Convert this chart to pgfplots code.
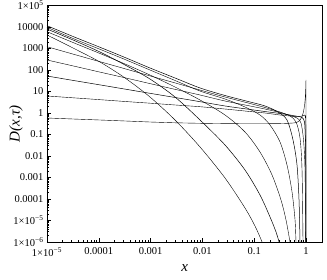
\documentclass[border=0pt]{standalone}
\usepackage{fontspec}
\setmainfont{Liberation Serif}
\usepackage{pgfplots}
\pgfplotsset{compat=1.18}

\begin{document}
\begin{tikzpicture}
\begin{loglogaxis}[
    name=ax,
    scale only axis,
    width=275.5pt, height=236.5pt,
    xmin=1e-5, xmax=2.08,
    ymin=1e-6, ymax=1e5,
    xtick={1e-5,1e-4,1e-3,1e-2,1e-1,1},
    xticklabels={1×10\textsuperscript{−5},0.0001,0.001,0.01,0.1,1},
    ytick={1e-6,1e-5,1e-4,1e-3,1e-2,1e-1,1,10,100,1000,10000,1e5},
    yticklabels={1×10\textsuperscript{−6},1×10\textsuperscript{−5},0.0001,0.001,0.01,0.1,1,10,100,1000,10000,1×10\textsuperscript{5}},
    tick label style={font=\fontsize{10.5}{12}\selectfont},
    xticklabel style={yshift=-2pt},
    tick align=inside,
    xtick pos=left, ytick pos=left,
    major tick length=4pt, minor tick length=2pt,
    every tick/.style={black, line width=0.5pt},
    axis line style={line width=0.9pt},
    xlabel={\textit{x}}, ylabel={\textit{D(x,τ)}},
    label style={font=\fontsize{15}{18}\selectfont},
    xlabel style={at={(axis description cs:0.5,-0.11)}, anchor=center},
    ylabel style={at={(axis description cs:-0.1125,0.5)}, anchor=center},
    cycle list={{black, solid, line width=0.5pt}},
    every axis plot/.append style={no marks},
]
% C1 (smallest tau): flat, spike at x->1
\addplot coordinates {(1e-5,0.585) (3.18e-5,0.526) (1.054e-4,0.472) (3.21e-4,0.425) (9.72e-4,0.381) (2.96e-3,0.350) (9.0e-3,0.332) (0.0273,0.321) (0.083,0.315) (0.2018,0.318) (0.3148,0.322) (0.4498,0.330) (0.5861,0.345) (0.6699,0.37) (0.7656,0.46) (0.8375,0.68) (0.895,1.15) (0.94,2.3) (0.97,5.5) (0.985,12) (0.993,21) (0.998,34.3) (0.9995,1e-7)};
% C2
\addplot+[smooth, tension=0.5] coordinates {(1e-5,6.18) (3.18e-5,5.09) (1.054e-4,4.16) (3.21e-4,3.43) (9.72e-4,2.86) (2.96e-3,2.36) (9.0e-3,1.96) (0.0273,1.53) (0.083,1.17) (0.1614,1.0) (0.3148,0.807) (0.4909,0.725) (0.7015,0.687) (0.8375,0.725) (0.935,0.807) (0.975,0.6) (0.991,0.2) (0.997,1e-6) (0.998,1e-7)};
% C3
\addplot+[smooth, tension=0.5] coordinates {(1e-5,52.6) (3.18e-5,32.8) (1.054e-4,20.3) (3.21e-4,12.9) (9.72e-4,8.24) (2.96e-3,5.26) (9.0e-3,3.36) (0.0273,2.12) (0.083,1.46) (0.1614,1.17) (0.3148,0.948) (0.4909,0.807) (0.7015,0.687) (0.8375,0.618) (0.935,0.381) (0.975,0.05) (0.986,0.019) (0.995,1e-6) (0.997,1e-7)};
% C4
\addplot+[smooth, tension=0.5] coordinates {(1e-5,292) (3.18e-5,155) (1.054e-4,79.8) (3.21e-4,43.4) (9.72e-4,23.3) (2.96e-3,12.6) (9.0e-3,6.87) (0.0273,3.61) (0.083,2.12) (0.1614,1.53) (0.3148,1.05) (0.4909,0.766) (0.6699,0.585) (0.80,0.343) (0.895,0.0555) (0.957,2.23e-3) (0.982,1e-6) (0.99,1e-8)};
% C5
\addplot+[smooth, tension=0.5] coordinates {(1e-5,1210) (3.18e-5,549) (1.054e-4,243) (3.21e-4,114) (9.72e-4,53.2) (2.96e-3,25.1) (9.0e-3,11.7) (0.0273,5.55) (0.083,2.77) (0.1614,1.80) (0.3148,1.11) (0.4909,0.725) (0.6412,0.381) (0.7656,0.0687) (0.8375,2.23e-3) (0.875,1e-6) (0.885,1e-7)};
% T_a
\addplot+[smooth, tension=0.5] coordinates {(1e-5,11480) (3.18e-5,3620) (1.054e-4,1140) (3.21e-4,381) (9.72e-4,124) (2.96e-3,42.5) (9.0e-3,14.6) (0.0273,6.51) (0.083,3.25) (0.1614,2.12) (0.2877,1.11) (0.4295,0.472) (0.561,0.0555) (0.6699,3.81e-3) (0.7328,8.97e-5) (0.7656,1e-6) (0.78,1e-7)};
% T_b
\addplot+[smooth, tension=0.5] coordinates {(1e-5,9680) (3.18e-5,2920) (1.054e-4,918) (3.21e-4,308) (9.72e-4,100) (2.96e-3,32.5) (9.0e-3,10.5) (0.0273,4.48) (0.0664,1.90) (0.1294,0.807) (0.2018,0.277) (0.3148,0.0448) (0.4295,3.81e-3) (0.537,2.12e-4) (0.6138,1.05e-5) (0.6412,1e-6) (0.67,1.8e-7)};
% S3
\addplot+[smooth, tension=0.5] coordinates {(1e-5,6040) (3.18e-5,1900) (1.054e-4,585) (3.21e-4,190) (9.72e-4,58.5) (2.96e-3,16.2) (9.0e-3,4.02) (0.0273,0.807) (0.0664,0.1306) (0.1294,0.0153) (0.2208,1.31e-3) (0.3289,8.97e-5) (0.4111,1.05e-5) (0.4909,1e-6) (0.537,2.5e-7)};
% S2
\addplot+[smooth, tension=0.5] coordinates {(1e-5,8070) (3.18e-5,2490) (1.054e-4,687) (3.21e-4,171) (9.72e-4,38.1) (2.96e-3,5.55) (9.0e-3,0.472) (0.0273,0.0325) (0.0664,2.23e-3) (0.1294,1.53e-4) (0.2018,1.46e-5) (0.2636,2.92e-6) (0.3013,1e-6) (0.3289,3.4e-7)};
% S1 (largest tau)
\addplot+[smooth, tension=0.5] coordinates {(1e-5,4250) (3.18e-5,1054) (1.054e-4,235) (3.21e-4,42.5) (9.72e-4,5.55) (2.96e-3,0.472) (9.0e-3,0.0262) (0.0273,9.48e-4) (0.0664,3.81e-5) (0.1035,5.54e-6) (0.1416,1e-6) (0.1614,3.4e-7)};
\end{loglogaxis}
\pgfresetboundingbox
\path[use as bounding box] ([shift={(-47pt,-38pt)}]ax.south west) rectangle ([shift={(4.5pt,5.5pt)}]ax.north east);
\end{tikzpicture}
\end{document}
